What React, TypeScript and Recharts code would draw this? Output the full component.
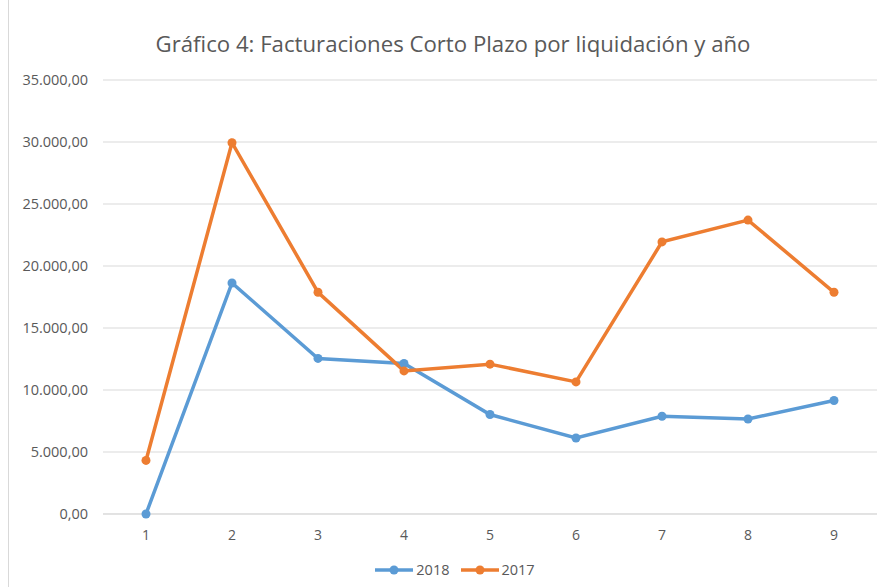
import React from 'react';
import { LineChart, Line, XAxis, YAxis, CartesianGrid, Legend } from 'recharts';

const liquidaciones = ['1', '2', '3', '4', '5', '6', '7', '8', '9'];
const valores2018 = [0, 18630, 12545, 12140, 8020, 6130, 7880, 7665, 9150];
const valores2017 = [4320, 29940, 17880, 11540, 12085, 10655, 21945, 23700, 17880];
const yTicks = [0, 5000, 10000, 15000, 20000, 25000, 30000, 35000];
const ordenLeyenda = ['2018', '2017'];

const AZUL = '#5B9BD5';
const NARANJA = '#ED7D31';
const GRIS = '#595959';
const FUENTE = '"Open Sans", sans-serif';

const data = liquidaciones.map((name, i) => ({
  name,
  '2018': valores2018[i],
  '2017': valores2017[i],
}));

// formato español: 35.000,00
const formatNumero = (v: number) => {
  const entero = Math.round(v).toString().replace(/\B(?=(\d{3})+(?!\d))/g, '.');
  return `${entero},00`;
};

const LeyendaLineas = ({ payload }: any) => {
  const items = [...(payload || [])].sort(
    (a: any, b: any) => ordenLeyenda.indexOf(String(a.value)) - ordenLeyenda.indexOf(String(b.value))
  );
  return (
    <div
      style={{
        display: 'flex',
        justifyContent: 'center',
        gap: 11,
        paddingLeft: 24,
        fontFamily: FUENTE,
        fontSize: 14.5,
        color: GRIS,
      }}
    >
      {items.map((item: any) => (
        <div key={item.value} style={{ display: 'flex', alignItems: 'center' }}>
          <svg width={38} height={10} style={{ marginRight: 3 }}>
            <line x1={0} y1={5} x2={38} y2={5} stroke={item.color} strokeWidth={3.5} />
            <circle cx={19} cy={5} r={4.5} fill={item.color} />
          </svg>
          <span>{item.value}</span>
        </div>
      ))}
    </div>
  );
};

export default function App() {
  return (
    <div
      style={{
        position: 'absolute',
        left: 8,
        top: 0,
        width: 872,
        height: 587,
        borderLeft: '1px solid #d9d9d9',
        background: '#fff',
      }}
    >
      <div
        style={{
          position: 'absolute',
          top: 28,
          left: 0,
          width: 888,
          textAlign: 'center',
          fontFamily: FUENTE,
          fontSize: 22.2,
          color: GRIS,
        }}
      >
        Gráfico 4: Facturaciones Corto Plazo por liquidación y año
      </div>
      <LineChart
        width={871}
        height={587}
        data={data}
        margin={{ top: 80, right: 3, left: 0, bottom: 2 }}
      >
        <CartesianGrid vertical={false} stroke="#d9d9d9" />
        <XAxis
          dataKey="name"
          padding={{ left: 43, right: 43 }}
          stroke="#d9d9d9"
          tickLine={false}
          tickSize={0}
          tickMargin={16}
          height={46}
          tick={{ fill: GRIS, fontSize: 14, fontFamily: FUENTE }}
        />
        <YAxis
          domain={[0, 35000]}
          ticks={yTicks}
          width={94}
          axisLine={false}
          tickLine={false}
          tickSize={0}
          tickMargin={15}
          tickFormatter={formatNumero}
          tick={{ fill: GRIS, fontSize: 14.5, fontFamily: FUENTE }}
        />
        <Legend verticalAlign="bottom" height={25} content={<LeyendaLineas />} />
        <Line
          type="linear"
          dataKey="2018"
          stroke={AZUL}
          strokeWidth={3.5}
          dot={{ r: 4.5, fill: AZUL, stroke: AZUL, strokeWidth: 0 }}
          isAnimationActive={false}
        />
        <Line
          type="linear"
          dataKey="2017"
          stroke={NARANJA}
          strokeWidth={3.5}
          dot={{ r: 4.5, fill: NARANJA, stroke: NARANJA, strokeWidth: 0 }}
          isAnimationActive={false}
        />
      </LineChart>
    </div>
  );
}
